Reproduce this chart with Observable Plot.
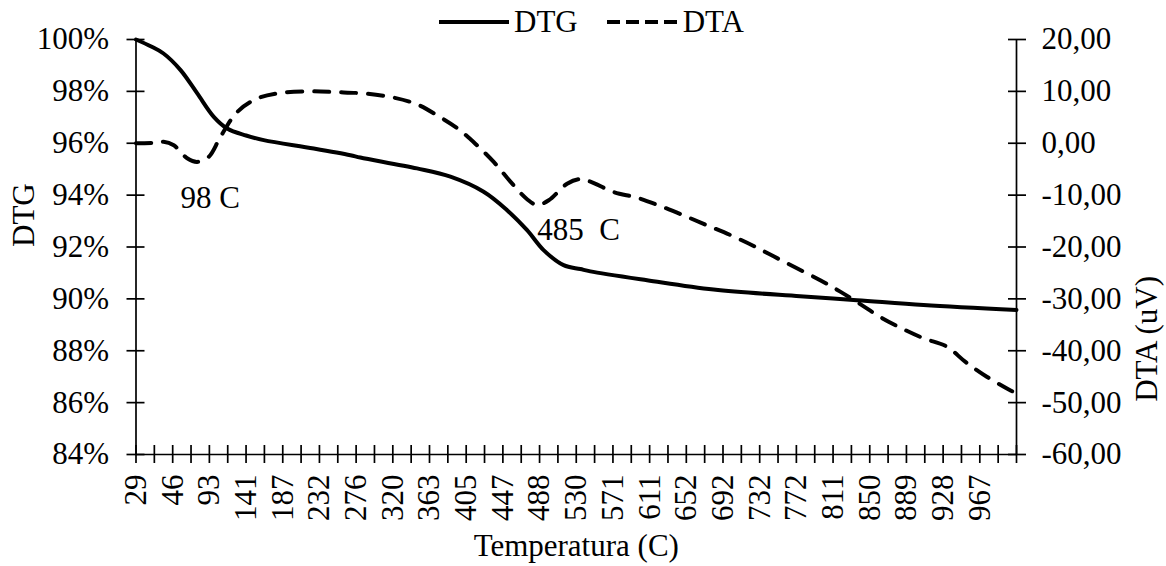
<!DOCTYPE html>
<html><head><meta charset="utf-8">
<script src="https://cdn.jsdelivr.net/npm/d3@7"></script>
<script src="https://cdn.jsdelivr.net/npm/@observablehq/plot@0.6"></script>
<style>
body{margin:0;background:#fff;}
#wrap{position:relative;width:1166px;height:566px;font-family:"Liberation Serif","Times New Roman",serif;color:#000;}
#wrap svg text{white-space:pre;font-family:"Liberation Serif","Times New Roman",serif !important;font-variant:normal !important;}
#legend{position:absolute;top:6px;left:439px;display:flex;align-items:center;font-size:31px;line-height:31px;}
#legend svg{display:block;}
</style></head><body><div id="wrap"></div>
<script>
// Category axis tick labels (temperature, °C), one every two tick marks
const tempLabels = [29,46,93,141,187,232,276,320,363,405,447,488,530,571,611,652,692,732,772,811,850,889,928,967];

// DTG (left axis, %), positions along the category axis in tick units
const dtgPos = [0, 0.8, 1.5, 2.43, 3.34, 4.24, 4.97, 6.0, 6.96, 9.69, 11.69, 12.23, 15.32, 17.14, 18.95, 20.23, 21.32, 22.22, 23.31, 24.22, 24.77, 27.86, 31.49, 36.2, 39.3, 42.93, 48];
const dtgVal = [100.0, 99.74, 99.46, 98.82, 97.92, 97.02, 96.57, 96.3, 96.12, 95.8, 95.54, 95.45, 95.03, 94.71, 94.13, 93.42, 92.65, 91.88, 91.3, 91.15, 91.06, 90.72, 90.36, 90.1, 89.95, 89.76, 89.57];

// DTA (right axis, uV)
const dtaPos = [0, 1.0, 1.5, 2.06, 2.79, 3.33, 3.97, 4.6, 5.51, 6.6, 7.87, 9.51, 10.96, 12.42, 14.05, 15.32, 16.5, 17.59, 18.59, 19.5, 20.41, 21.32, 21.86, 22.5, 23.5, 24.2, 24.77, 26.04, 27.31, 28.58, 29.85, 31.12, 32.4, 33.67, 34.76, 36.03, 37.3, 38.39, 39.48, 40.57, 41.75, 42.93, 44.2, 45.2, 46.38, 47.65, 48];
const dtaVal = [0.0, 0.1, 0.3, -0.4, -2.9, -3.6, -2.6, 1.2, 6.0, 8.6, 9.7, 10.0, 9.85, 9.6, 8.8, 7.5, 5.2, 2.7, -0.4, -3.6, -7.4, -10.8, -11.9, -11.0, -7.8, -6.9, -7.4, -9.4, -10.5, -12.1, -13.9, -15.8, -17.7, -19.8, -21.8, -24.1, -26.4, -28.6, -31.0, -33.5, -35.7, -37.6, -39.2, -42.1, -45.0, -47.6, -48.2];

// Peak annotations
const annText = ["98 C", "485  C"];
const annPos = [2.43, 21.88];
const annPct = [93.88, 92.65];

const pctTicks = [84, 86, 88, 90, 92, 94, 96, 98, 100];
const dtaTickValues = [-60, -50, -40, -30, -20, -10, 0, 10, 20];

// right axis (-60..20) mapped onto left axis (84..100)
const dtaToPct = v => 100 + (v - 20) / 5;
const fmtDTA = v => (v < 0 ? "-" : "") + Math.abs(v).toFixed(2).replace(".", ",");

const dtg = dtgPos.map((p, i) => ({pos: p, val: dtgVal[i]}));
const dta = dtaPos.map((p, i) => ({pos: p, val: dtaVal[i]}));
const ann = annText.map((t, i) => ({text: t, pos: annPos[i], pct: annPct[i]}));
const xTicks = d3.range(0, 49);

const AX = 1.7;
const chart = Plot.plot({
  width: 1166, height: 566,
  marginLeft: 135.5, marginRight: 150, marginTop: 39, marginBottom: 112,
  style: {fontFamily: '"Liberation Serif", "Times New Roman", serif', fontSize: "31px", color: "#000", background: "#fff", overflow: "visible"},
  x: {domain: [0, 48]},
  y: {domain: [84, 100]},
  marks: [
    Plot.ruleX([0, 48], {strokeWidth: AX}),
    Plot.ruleY([84], {strokeWidth: AX}),
    Plot.axisY({ticks: pctTicks, fill: "none", tickSize: 18, dx: 9, strokeWidth: AX}),
    Plot.axisY({ticks: pctTicks, tickSize: 0, tickPadding: 27, tickFormat: d => d + "%", label: null, fontSize: 31}),
    Plot.axisY({anchor: "right", ticks: dtaTickValues.map(dtaToPct), fill: "none", tickSize: 18, dx: -9, strokeWidth: AX}),
    Plot.axisY({anchor: "right", ticks: dtaTickValues.map(dtaToPct), tickSize: 0, tickPadding: 25, fontSize: 31,
      tickFormat: p => fmtDTA(Math.round((p - 100) * 5 + 20)), label: null}),
    Plot.axisX({ticks: xTicks, fill: "none", tickSize: 18, dy: -9, strokeWidth: AX}),
    Plot.axisX({ticks: xTicks.filter(i => i % 2 === 0 && i / 2 < tempLabels.length), tickSize: 0, tickPadding: 20, tickRotate: -90, fontSize: 31,
      tickFormat: i => String(tempLabels[i / 2]), label: null}),
    Plot.line(dtg, {x: "pos", y: "val", curve: "catmull-rom", stroke: "#000", strokeWidth: 4}),
    Plot.line(dta, {x: "pos", y: d => dtaToPct(d.val), curve: "catmull-rom", stroke: "#000", strokeWidth: 4, strokeDasharray: "15,12"}),
    Plot.text(ann, {x: "pos", y: "pct", text: "text", textAnchor: "start", fontSize: 31}),
    Plot.text(["DTG"], {frameAnchor: "left", rotate: -90, dx: -111.5, fontSize: 31}),
    Plot.text(["DTA (uV)"], {frameAnchor: "right", rotate: -90, dx: 131, dy: 29, fontSize: 31}),
    Plot.text(["Temperatura (C)"], {frameAnchor: "bottom", dy: 101, fontSize: 31})
  ]
});

const wrap = document.getElementById("wrap");
wrap.appendChild(chart);

const legend = document.createElement("div");
legend.id = "legend";
legend.innerHTML =
  '<svg width="70" height="10"><line x1="0" x2="70" y1="5" y2="5" stroke="#000" stroke-width="4"/></svg>' +
  '<span style="margin-left:5px">DTG</span>' +
  '<svg width="70" height="10" style="margin-left:29px"><line x1="0" x2="70" y1="5" y2="5" stroke="#000" stroke-width="4" stroke-dasharray="13,6"/></svg>' +
  '<span style="margin-left:6px">DTA</span>';
wrap.appendChild(legend);
</script></body></html>
